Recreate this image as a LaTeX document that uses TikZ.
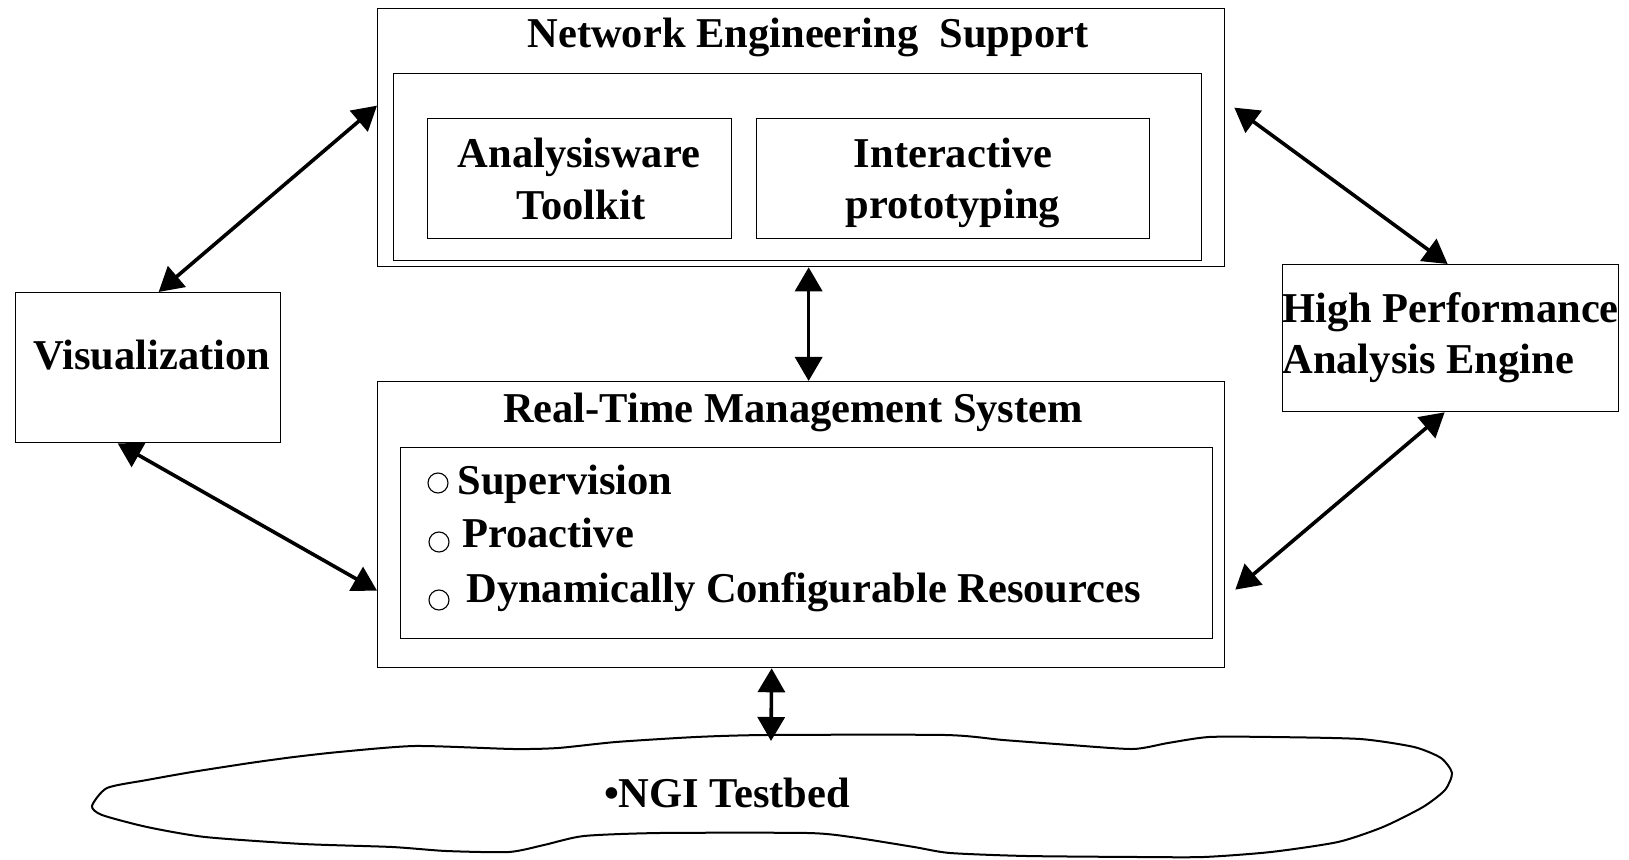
\documentclass[tikz,border=0pt]{standalone}
\usepackage{fontspec}
\setmainfont{Liberation Serif}
\usetikzlibrary{arrows.meta,calc}
\begin{document}
\begin{tikzpicture}[x=0.5pt,y=-0.5pt,
  box/.style={draw, line width=0.65pt, inner sep=0pt, anchor=north west},
  lbl/.style={font=\fontsize{21.25}{25}\selectfont\bfseries, inner sep=0pt, anchor=base},
  lblw/.style={lbl, anchor=base west},
  bul/.style={circle, draw, line width=0.55pt, minimum size=10pt, inner sep=0pt},
  conn/.style={line width=1.8pt,
    {Triangle[length=12pt,width=13.5pt]}-{Triangle[length=12pt,width=13.5pt]}}
]
\useasboundingbox (0,0) rectangle (1629,860);

% Network Engineering Support block
\node[box, minimum width=423.5pt, minimum height=129pt] (nes) at (377,8) {};
\node[box, minimum width=404pt, minimum height=93.5pt] (nesin) at (393,73) {};
\node[box, minimum width=152pt, minimum height=60pt] (aw) at (427,118) {};
\node[box, minimum width=196.5pt, minimum height=60pt] (ip) at (756,118) {};
\node[lbl] (nestitle) at (808,48) {Network Engineering\ \ Support};
\node[lbl] (aw1) at (579,168) {Analysisware};
\node[lbl] (aw2) at (581,220) {Toolkit};
\node[lbl] (ip1) at (953,168) {Interactive};
\node[lbl] (ip2) at (953,219) {prototyping};

% Visualization
\node[box, minimum width=132.5pt, minimum height=75pt] (vis) at (15,292) {};
\node[lbl] (vistext) at (152,370) {Visualization};

% High Performance Analysis Engine
\node[box, minimum width=168pt, minimum height=73.5pt] (hpae) at (1282,264) {};
\node[lblw] (hp1) at (1282,323) {High Performance};
\node[lblw] (hp2) at (1282,374) {Analysis Engine};

% Real-Time Management System block
\node[box, minimum width=423.5pt, minimum height=143pt] (rtms) at (377,381) {};
\node[box, minimum width=406pt, minimum height=95.5pt] (rtmsin) at (400,447) {};
\node[lbl] (rttitle) at (793,423) {Real-Time Management System};
\node[bul] (b1) at (438,483) {};
\node[bul] (b2) at (439,542) {};
\node[bul] (b3) at (439,600) {};
\node[lblw] (s1) at (457,495) {Supervision};
\node[lblw] (s2) at (462,548) {Proactive};
\node[lblw] (s3) at (466,603) {Dynamically Configurable Resources};

% NGI testbed cloud
\draw[line width=1pt] plot[smooth cycle, tension=0.4] coordinates {
  (92,806) (107,788) (147,780) (192,772) (250,763) (294,757) (339,752)
  (415,746) (513,749) (558,748) (616,742) (696,737) (767,735) (945,735)
  (1003,740) (1070,745) (1133,749) (1168,743) (1209,737) (1271,737)
  (1360,739) (1414,747) (1441,758) (1452,773) (1445,790) (1423,807)
  (1383,827) (1338,842) (1271,852) (1204,857) (1137,857) (1026,856)
  (950,853) (914,847) (851,837) (807,833) (660,833) (584,836) (544,845)
  (509,852) (446,851) (392,847) (303,844) (205,837) (147,827) (102,815)};
\node[lbl] (ngi) at (727,807) {\textbullet NGI Testbed};
\coordinate (cloudtop) at (771,741);

% Connectors
\draw[conn] ([xshift=5.25pt]vis.north) -- ([yshift=16pt]nes.west);
\draw[conn] ([xshift=-15.25pt]vis.south) -- ([yshift=-33pt]rtms.west);
\draw[conn] ([xshift=3.75pt]nes.south) -- ([xshift=3.75pt]rtms.north);
\draw[conn] ([xshift=4.5pt,yshift=15pt]nes.east) -- ([xshift=-1.5pt]hpae.north);
\draw[conn] ([xshift=-3pt]hpae.south) -- ([xshift=5pt,yshift=-32.5pt]rtms.east);
\draw[conn] ([xshift=-14.75pt]rtms.south) -- (cloudtop);
\end{tikzpicture}
\end{document}
